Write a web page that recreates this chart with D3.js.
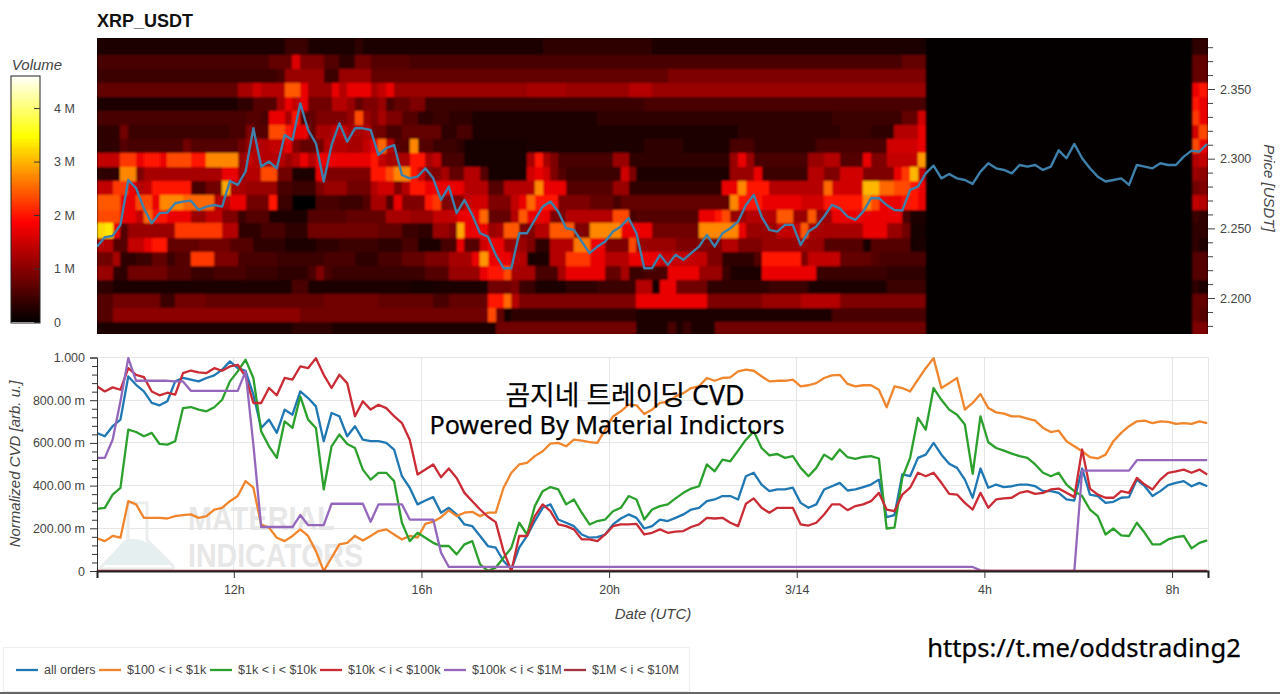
<!DOCTYPE html>
<html>
<head>
<meta charset="utf-8">
<script src="https://cdn.jsdelivr.net/npm/d3@7"></script>
<style>
  html, body { margin: 0; padding: 0; background: #fff; overflow: hidden; }
  svg { display: block; font-family: "Liberation Sans", sans-serif; }
  .tick text { fill: #444; font-size: 12.5px; font-family: "Liberation Sans", sans-serif; }
  .axis-title { font-style: italic; font-size: 15px; fill: #444; }
</style>
</head>
<body>
<svg id="chart" width="1280" height="694"></svg>
<script>
// volume per cell, one char per 10 min column, base 36, in tenths of a million
const volumeRows = [
  "2222222222 2222222222 2222444222 2223222222 2222222222 2222222333 3333333333 3222222222 2222222222 2222222222 222222",
  "5555555555 5555555555 55777g9996 6338866666 5555555555 5555555555 5555555555 5555555555 5555555555 5555555555 555777",
  "4444444444 4444444444 4445bbbbb4 4bbbb77777 7777777777 7777777777 7777777777 7779999999 9999999999 9999999999 999999",
  "7777777777 77777777cc fdddoohbbb hdhhhcehbb bbbbbbbbbb bbbbbccccc bbbbbbbbdd dbbbbbbbbb bbbbbbbbbb bbbbbbbbbb bbbbbb",
  "2222222222 2222222233 666cheh888 ddb799b577 9944444444 4444444444 4444444444 5555555555 5555555555 5555555555 555555",
  "5555555555 5555555556 65hhck6799 99bnb9c996 6334433322 2222222222 2222333333 3333333333 3333333333 3333444444 44477f",
  "3338444444 4444444559 66nnkhh7cc eeccd88557 7777335522 2222222222 2222222222 2222222222 2233333333 3333344443 33dddh",
  "3336555555 586666668b ddeeh9778d ddccehpd66 r664443111 1111122222 2222222222 3333322222 2555333333 3355555555 5ffffh",
  "eeemmhkkhn nnkkrrrrbe ddddbdhdhh hhhhhkeccc kkce555111 11111ckc95 555555bb33 3333333333 3bhb555555 5bbdd666h9 9eeees",
  "333rr9cccc cccccchhbd dnn88222h9 99999kknrr ke99c77dd6 11111fhf96 4444444f92 2222222222 2bbbh44444 4dd99fff99 99hmue",
  "eemmhdekkk kk5588tccb bbb554449b bb888dff9d kkhhhhhddd 66ddddrhhh 666666bb33 3333333333 hhrkkkdddd dddpffffuu ppnnkh",
  "ooohhnnhrr rppppddhh8 88k4400055 54446cc6h9 99km999eff 999ehpkkk9 9997775777 7777777777 7rkkkhhhhh fffkkkkkrn hhhkkh",
  "nnnhhepkkh hhbbee9946 6622222666 6677777ccc bbbeeehhhp 777dohhh99 ddddddnn56 6666666hhk nbbddddoob bobbhhhhhh hhh522",
  "wxh6bbbbbb mmmmmmdd33 3555333888 8888887774 433bb9thhh bcoo99ddoo o99rrrrhhh h888888rrr rrhbbbbeee occccccchh hbb811",
  "dd66eehkk7 7778888666 3333222233 3444443335 522255h66f hhbbb933dd dqqhh999nb bbbb999999 dd999bbbbb bbb6666616 666612",
  "88c3344774 66mmm99955 5554444445 5553335557 77999ccchs hhhdd122dd mmmhhdddhh hheeeeee99 33336kkkkk 9eeee77776 555555",
  "bb33888886 6644455554 4443333595 4444444444 44666bbbbh kknccc555c hhhhh77c44 555hhhhbbb 42222hhhhh hh44444444 433333",
  "3322222222 2222222222 2222255222 2222222222 1112222222 8889442222 333344444d d1hh888833 3333334444 4222222222 244444",
  "6688888844 8888777777 7777777778 8888887777 7775577777 kkpd999999 999999999h hhhhhhhh99 99999bbbbb ddddd99999 999999",
  "66aaaaaaaa aaaaaaaaaa aaaaaa8888 8888888888 8888888888 n713333333 3333333332 2222222222 2222222222 2222555555 555555",
  "2222222222 2222222222 2222233333 2222222222 2222222222 2888888888 8888888882 2225242228 8888888888 8888888888 888888"
]
// the volume profile strip at the right edge, two columns
const profileRows = ["33","77","77","hk","kh","mh","fn","nh","de","ba","89","ed","43","33","32","66","66","32","77","76","99"]

const priceEdges = [2.3866,2.3744,2.3643,2.3542,2.3441,2.3341,2.3240,2.3139,2.3038,2.2938,2.2837,2.2736,2.2635,2.2535,2.2434,2.2333,2.2232,2.2132,2.2031,2.1930,2.1829,2.1742]

const price = [
  2.2369,2.2436,2.2446,2.2525,2.2847,2.2788,2.2644,2.2537,2.2609,2.2613,
  2.2680,2.2692,2.2699,2.2632,2.2656,2.2668,2.2656,2.2840,2.2812,2.2907,
  2.3218,2.2943,2.2979,2.2931,2.3170,2.3134,2.3397,2.3206,2.3110,2.2836,
  2.3098,2.3254,2.3122,2.3218,2.3218,2.3206,2.3027,2.3075,2.3098,2.2883,
  2.2859,2.2871,2.2931,2.2859,2.2704,2.2800,2.2609,2.2704,2.2597,2.2465,
  2.2441,2.2310,2.2214,2.2214,2.2465,2.2465,2.2561,2.2656,2.2692,2.2620,
  2.2501,2.2489,2.2405,2.2322,2.2369,2.2405,2.2477,2.2513,2.2573,2.2465,
  2.2214,2.2214,2.2310,2.2238,2.2310,2.2274,2.2322,2.2369,2.2453,2.2369,
  2.2465,2.2501,2.2549,2.2668,2.2740,2.2585,2.2489,2.2477,2.2525,2.2525,
  2.2381,2.2477,2.2513,2.2585,2.2668,2.2644,2.2585,2.2561,2.2620,2.2716,
  2.2716,2.2668,2.2632,2.2628,2.2776,2.2800,2.2895,2.2950,2.2859,2.2890,
  2.2859,2.2847,2.2819,2.2907,2.2967,2.2931,2.2919,2.2895,2.2955,2.2943,
  2.2955,2.2919,2.2943,2.3060,2.3003,2.3106,2.3003,2.2931,2.2871,2.2836,
  2.2847,2.2859,2.2812,2.2955,2.2943,2.2931,2.2967,2.2955,2.2955,2.3015,
  2.3058,2.3051,2.3106
]

// normalized CVD in milli units
const allOrders = [
  646,631,678,709,911,872,841,787,776,795,
  888,904,896,888,904,916,943,982,950,938,
  826,670,709,647,756,732,841,810,771,608,
  740,725,631,678,615,608,608,600,569,444,
  390,312,330,346,273,296,265,218,210,164,
  117,109,47,8,109,164,234,296,312,241,
  226,210,171,156,159,171,218,246,265,249,
  199,210,241,234,249,265,288,296,327,335,
  351,351,335,444,460,405,374,382,382,390,
  319,296,312,382,397,413,377,382,393,405,
  428,252,262,452,444,530,545,600,545,502,
  483,428,343,480,390,405,393,397,405,405,
  397,374,374,366,335,330,480,358,351,319,
  324,343,346,428,397,351,374,402,413,421,
  397,413,397
]
const cvd100 = [
  153,140,164,156,327,312,249,249,249,246,
  257,262,265,249,257,288,296,327,351,421,
  390,218,203,156,140,164,195,164,93,0,
  62,125,132,164,143,164,187,195,171,148,
  164,156,221,231,252,284,257,273,277,257,
  273,273,390,460,499,506,538,561,597,600,
  584,615,611,604,600,662,724,748,779,776,
  735,756,787,792,818,833,857,865,904,891,
  904,907,935,943,938,912,888,891,891,896,
  865,870,880,904,916,919,876,865,870,870,
  849,767,865,857,841,896,950,997,857,880,
  904,756,787,829,763,743,737,724,724,714,
  704,670,651,657,608,584,561,533,527,545,
  608,647,678,701,704,693,701,698,689,693,
  689,701,693
]
const cvd1k = [
  291,296,358,389,662,651,631,647,595,592,
  608,763,768,756,748,767,802,888,935,990,
  904,654,584,530,701,670,818,709,670,382,
  584,639,595,576,475,428,460,460,421,226,
  140,179,156,132,117,117,78,125,140,31,
  0,16,62,109,226,171,304,374,393,382,
  312,335,273,218,234,241,280,296,351,335,
  241,288,304,312,340,366,386,397,499,467,
  522,514,564,615,654,576,542,548,530,538,
  483,444,483,545,522,569,533,525,534,538,
  527,199,203,436,530,717,662,857,802,756,
  732,686,455,724,603,576,564,550,538,530,
  499,460,444,460,405,374,351,288,257,171,
  199,167,164,226,179,125,125,148,159,164,
  106,132,143
]
const cvd10k = [
  865,841,860,849,950,919,908,841,823,835,
  826,927,939,930,927,950,938,958,966,911,
  787,787,857,823,904,896,958,950,997,919,
  857,919,880,725,795,756,779,763,725,693,
  615,452,475,499,439,480,436,366,327,288,
  254,229,93,0,164,164,257,312,280,218,
  210,195,148,148,140,171,210,218,218,221,
  171,179,195,179,184,187,206,218,249,246,
  249,226,210,315,340,296,273,296,296,296,
  218,213,226,265,312,312,285,304,312,327,
  366,288,280,358,390,460,444,460,413,361,
  358,319,288,366,296,335,340,343,366,374,
  361,366,382,386,366,346,569,386,358,343,
  343,374,366,436,405,382,428,460,467,475,
  460,475,452
]
const cvd100k = [
  530,530,615,795,997,891,891,891,891,891,
  888,888,844,844,844,844,844,844,844,935,
  592,206,206,206,206,206,262,215,215,215,
  315,315,315,315,315,231,312,312,312,312,
  241,241,241,241,86,19,19,19,19,19,
  19,19,19,19,19,19,19,19,19,19,
  19,19,19,19,19,19,19,19,19,19,
  19,19,19,19,19,19,19,19,19,19,
  19,19,19,19,19,19,19,19,19,19,
  19,19,19,19,19,19,19,19,19,19,
  19,19,19,19,19,19,19,19,19,19,
  19,19,19,3,0,0,0,0,0,0,
  0,0,0,0,0,0,470,470,470,470,
  470,470,470,519,519,519,519,519,519,519,
  519,519,519
]
const cvd1m = [
  0,0,0,0,0,0,0,0,0,0,0,0,0,0,0,0,0,0,0,0,0,0,0,0,0,0,0,0,0,0,
  0,0,0,0,0,0,0,0,0,0,0,0,0,0,0,0,0,0,0,0,0,0,0,0,0,0,0,0,0,0,
  0,0,0,0,0,0,0,0,0,0,0,0,0,0,0,0,0,0,0,0,0,0,0,0,0,0,0,0,0,0,
  0,0,0,0,0,0,0,0,0,0,0,0,0,0,0,0,0,0,0,0,0,0,0,0,0,0,0,0,0,0,
  0,0,0,0,0,0,0,0,0,0,0,0,0,0,0,0,0,0,0,0,0,0,0
]

const seriesNames = ["all orders","$100 < i < $1k","$1k < i < $10k","$10k < i < $100k","$100k < i < $1M","$1M < i < $10M"]
const seriesValues = [allOrders, cvd100, cvd1k, cvd10k, cvd100k, cvd1m]
const seriesColors = ["#1f77b4","#f0852d","#2ca02c","#cb2b35","#9467bd","#a33340"]

const volumeTicks = [0, 1, 2, 3, 4]
const priceMajor = [2.20, 2.25, 2.30, 2.35]
const priceMinor = [2.18,2.19,2.21,2.22,2.23,2.24,2.26,2.27,2.28,2.29,2.31,2.32,2.33,2.34,2.36,2.37,2.38]
const cvdMajor = [0, 200, 400, 600, 800, 1000]
const cvdMinor = [40,80,120,160,240,280,320,360,440,480,520,560,640,680,720,760,840,880,920,960]
const dateTicks = ["2025-03-13T12:00Z","2025-03-13T16:00Z","2025-03-13T20:00Z","2025-03-14T00:00Z","2025-03-14T04:00Z","2025-03-14T08:00Z"].map(d => new Date(d))
const dateLabels = ["12h","16h","20h","3/14","4h","8h"]

const start = Date.UTC(2025, 2, 13, 9, 5)
const tenMin = 600000
const timeAt = i => new Date(start + i * tenMin)

const left = 97, right = 1208
const x = d3.scaleUtc().domain([timeAt(0), new Date(start + 1421 * 60000)]).range([left, right])
const yPrice = d3.scaleLinear().domain([2.1742, 2.3866]).range([334, 38])
const yCvd = d3.scaleLinear().domain([0, 1000]).range([571, 357.5])
const yBar = d3.scaleLinear().domain([0, 4.6]).range([322, 76])
const heat = d3.scaleLinear().domain([0, 1.85, 3.45, 4.6]).range(["#040000", "#ff0000", "#ffff00", "#ffffff"])

const svg = d3.select("#chart")

const parseRow = s => s.replace(/ /g, "").split("").map(c => parseInt(c, 36) / 10)

let cells = []
volumeRows.forEach((row, r) => {
  parseRow(row).forEach((v, i) => cells.push({ i, r, v }))
})
profileRows.forEach((row, r) => {
  parseRow(row).forEach((v, k) => cells.push({ i: 140 + k, r, v }))
})

svg.append("text").attr("x", 97).attr("y", 27)
  .attr("font-size", 18).attr("font-weight", "bold").attr("fill", "#111").text("XRP_USDT")

// heatmap
const clip = svg.append("defs")
clip.append("clipPath").attr("id", "clipTop").append("rect")
  .attr("x", left).attr("y", 38).attr("width", right - left).attr("height", 296)
clip.append("clipPath").attr("id", "clipBottom").append("rect")
  .attr("x", left).attr("y", 355).attr("width", right - left).attr("height", 216)
// the reference is a soft, resampled screenshot
clip.append("filter").attr("id", "soft").append("feGaussianBlur").attr("stdDeviation", 0.9)

const topPlot = svg.append("g").attr("clip-path", "url(#clipTop)")
topPlot.append("rect").attr("x", left).attr("y", 38).attr("width", right - left).attr("height", 296).attr("fill", heat(0))
topPlot.append("g").attr("shape-rendering", "crispEdges").attr("filter", "url(#soft)")
  .selectAll("rect").data(cells).join("rect")
  .attr("x", d => x(timeAt(d.i)))
  .attr("width", d => x(timeAt(d.i + 1)) - x(timeAt(d.i)) + 0.5)
  .attr("y", d => yPrice(priceEdges[d.r]))
  .attr("height", d => yPrice(priceEdges[d.r + 1]) - yPrice(priceEdges[d.r]) + 0.5)
  .attr("fill", d => heat(d.v))

const line = d3.line().x((d, i) => x(timeAt(i)))
topPlot.append("path").datum(price)
  .attr("d", line.y(d => yPrice(d)))
  .attr("fill", "none").attr("stroke", "#3f80ab").attr("stroke-width", 2.4).attr("stroke-linejoin", "round")

// price axis
svg.append("g").attr("transform", `translate(${right},0)`)
  .call(d3.axisRight(yPrice).tickValues(priceMajor).tickFormat(d3.format(".3f")).tickSize(7).tickPadding(5))
  .call(g => g.select(".domain").remove())
  .call(g => g.selectAll("line").attr("stroke", "#444"))
svg.append("g").attr("transform", `translate(${right},0)`)
  .call(d3.axisRight(yPrice).tickValues(priceMinor).tickFormat("").tickSize(5))
  .call(g => g.select(".domain").remove())
  .call(g => g.selectAll("line").attr("stroke", "#444"))
svg.append("text").attr("class", "axis-title")
  .attr("transform", "translate(1264,188) rotate(90)").attr("text-anchor", "middle").text("Price [USDT]")

// colour bar
svg.append("text").attr("class", "axis-title").attr("x", 37).attr("y", 70).attr("text-anchor", "middle").text("Volume")
const barSteps = d3.range(0, 4.6, 0.05)
svg.append("g").attr("shape-rendering", "crispEdges")
  .selectAll("rect").data(barSteps).join("rect")
  .attr("x", 11).attr("width", 29)
  .attr("y", d => yBar(d + 0.05) - 0.3)
  .attr("height", d => yBar(d) - yBar(d + 0.05) + 0.6)
  .attr("fill", d => heat(d))
svg.append("rect").attr("x", 11).attr("y", 76).attr("width", 29).attr("height", 247)
  .attr("fill", "none").attr("stroke", "#222").attr("stroke-width", 1)
svg.append("g").attr("transform", "translate(40,0)")
  .call(d3.axisRight(yBar).tickValues(volumeTicks).tickFormat(d => d === 0 ? "0" : d + " M").tickSize(-6).tickPadding(14))
  .call(g => g.select(".domain").remove())
  .call(g => g.selectAll("line").attr("stroke", "#333"))

// watermark
const mark = svg.append("g")
mark.append("path")
  .attr("d", "M128,503 L147,503 L147,540 L173,566 Q175,569 170,569 L104,569 Q99,569 102,566 L128,540 Z")
  .attr("fill", "none").attr("stroke", "#e9eded").attr("stroke-width", 3)
mark.append("path")
  .attr("d", "M122,542 Q135,534 152,546 L170,565 L105,565 Z")
  .attr("fill", "#e6eff0")
mark.append("text").attr("x", 188).attr("y", 530).attr("font-size", 34).attr("font-weight", "bold")
  .attr("fill", "#e7e7e7").attr("textLength", 147).attr("lengthAdjust", "spacingAndGlyphs").text("MATERIAL")
mark.append("text").attr("x", 188).attr("y", 567).attr("font-size", 34).attr("font-weight", "bold")
  .attr("fill", "#e7e7e7").attr("textLength", 175).attr("lengthAdjust", "spacingAndGlyphs").text("INDICATORS")

// cvd grid
const grid = svg.append("g").attr("stroke", "#e6e6e6").attr("stroke-width", 1).attr("shape-rendering", "crispEdges")
grid.selectAll(".gy").data(cvdMajor.slice(1)).join("line").attr("class", "gy")
  .attr("x1", left).attr("x2", right).attr("y1", d => yCvd(d)).attr("y2", d => yCvd(d))
grid.selectAll(".gx").data(dateTicks).join("line").attr("class", "gx")
  .attr("x1", d => x(d)).attr("x2", d => x(d)).attr("y1", 357).attr("y2", 571)
grid.append("line").attr("x1", right).attr("x2", right).attr("y1", 357).attr("y2", 571)

// cvd lines
const bottomPlot = svg.append("g").attr("clip-path", "url(#clipBottom)")
bottomPlot.selectAll("path").data(seriesValues).join("path")
  .attr("d", line.y(d => yCvd(d)))
  .attr("fill", "none").attr("stroke", (d, i) => seriesColors[i])
  .attr("stroke-width", 2.3).attr("stroke-linejoin", "round")

// cvd axes
svg.append("g").attr("transform", `translate(${left},0)`)
  .call(d3.axisLeft(yCvd).tickValues(cvdMinor).tickFormat("").tickSize(5))
  .call(g => g.select(".domain").remove())
  .call(g => g.selectAll("line").attr("stroke", "#333"))
svg.append("g").attr("transform", `translate(${left},0)`)
  .call(d3.axisLeft(yCvd).tickValues(cvdMajor)
    .tickFormat(d => d === 0 ? "0" : d === 1000 ? "1.000" : d.toFixed(2) + " m").tickSize(7).tickPadding(5))
  .call(g => g.select(".domain").attr("stroke", "#333"))
  .call(g => g.selectAll("line").attr("stroke", "#333"))
svg.append("g").attr("transform", "translate(0,571)")
  .call(d3.axisBottom(x).tickValues(dateTicks).tickFormat((d, i) => dateLabels[i]).tickSize(7).tickPadding(7))
  .call(g => g.select(".domain").attr("stroke", "#222").attr("stroke-width", 2))
  .call(g => g.selectAll("line").attr("stroke", "#333"))
svg.append("text").attr("class", "axis-title").attr("x", 653).attr("y", 619).attr("text-anchor", "middle").text("Date (UTC)")
svg.append("text").attr("class", "axis-title")
  .attr("transform", "translate(20,464) rotate(-90)").attr("text-anchor", "middle").text("Normalized CVD [arb. u.]")

// caption pasted on top of the chart
const cap = svg.append("g").attr("font-family", "'Noto Sans', 'Noto Sans CJK KR', sans-serif")
  .attr("fill", "#000").attr("stroke", "#000").attr("stroke-width", 0.25)
cap.append("text").attr("x", 625).attr("y", 405).attr("text-anchor", "middle").attr("font-size", 26.8).text("곰지네 트레이딩 CVD")
cap.append("text").attr("x", 607).attr("y", 434).attr("text-anchor", "middle").attr("font-size", 25.2).text("Powered By Material Indictors")
cap.append("text").attr("x", 1084).attr("y", 657).attr("text-anchor", "middle").attr("font-size", 25.6).text("https://t.me/oddstrading2")

// legend
const legendX = [16, 99, 210, 320, 444, 564]
svg.append("rect").attr("x", 3.5).attr("y", 647.5).attr("width", 686).attr("height", 44)
  .attr("fill", "#fff").attr("stroke", "#eeeeee")
const legend = svg.append("g").selectAll("g").data(seriesNames).join("g")
  .attr("transform", (d, i) => `translate(${legendX[i]},670)`)
legend.append("line").attr("x2", 22).attr("stroke", (d, i) => seriesColors[i]).attr("stroke-width", 2.3)
legend.append("text").attr("x", 28).attr("y", 4).attr("font-size", 12.5).attr("fill", "#444").text(d => d)

svg.append("rect").attr("x", 0).attr("y", 692).attr("width", 1280).attr("height", 2).attr("fill", "#666")
</script>
</body>
</html>
